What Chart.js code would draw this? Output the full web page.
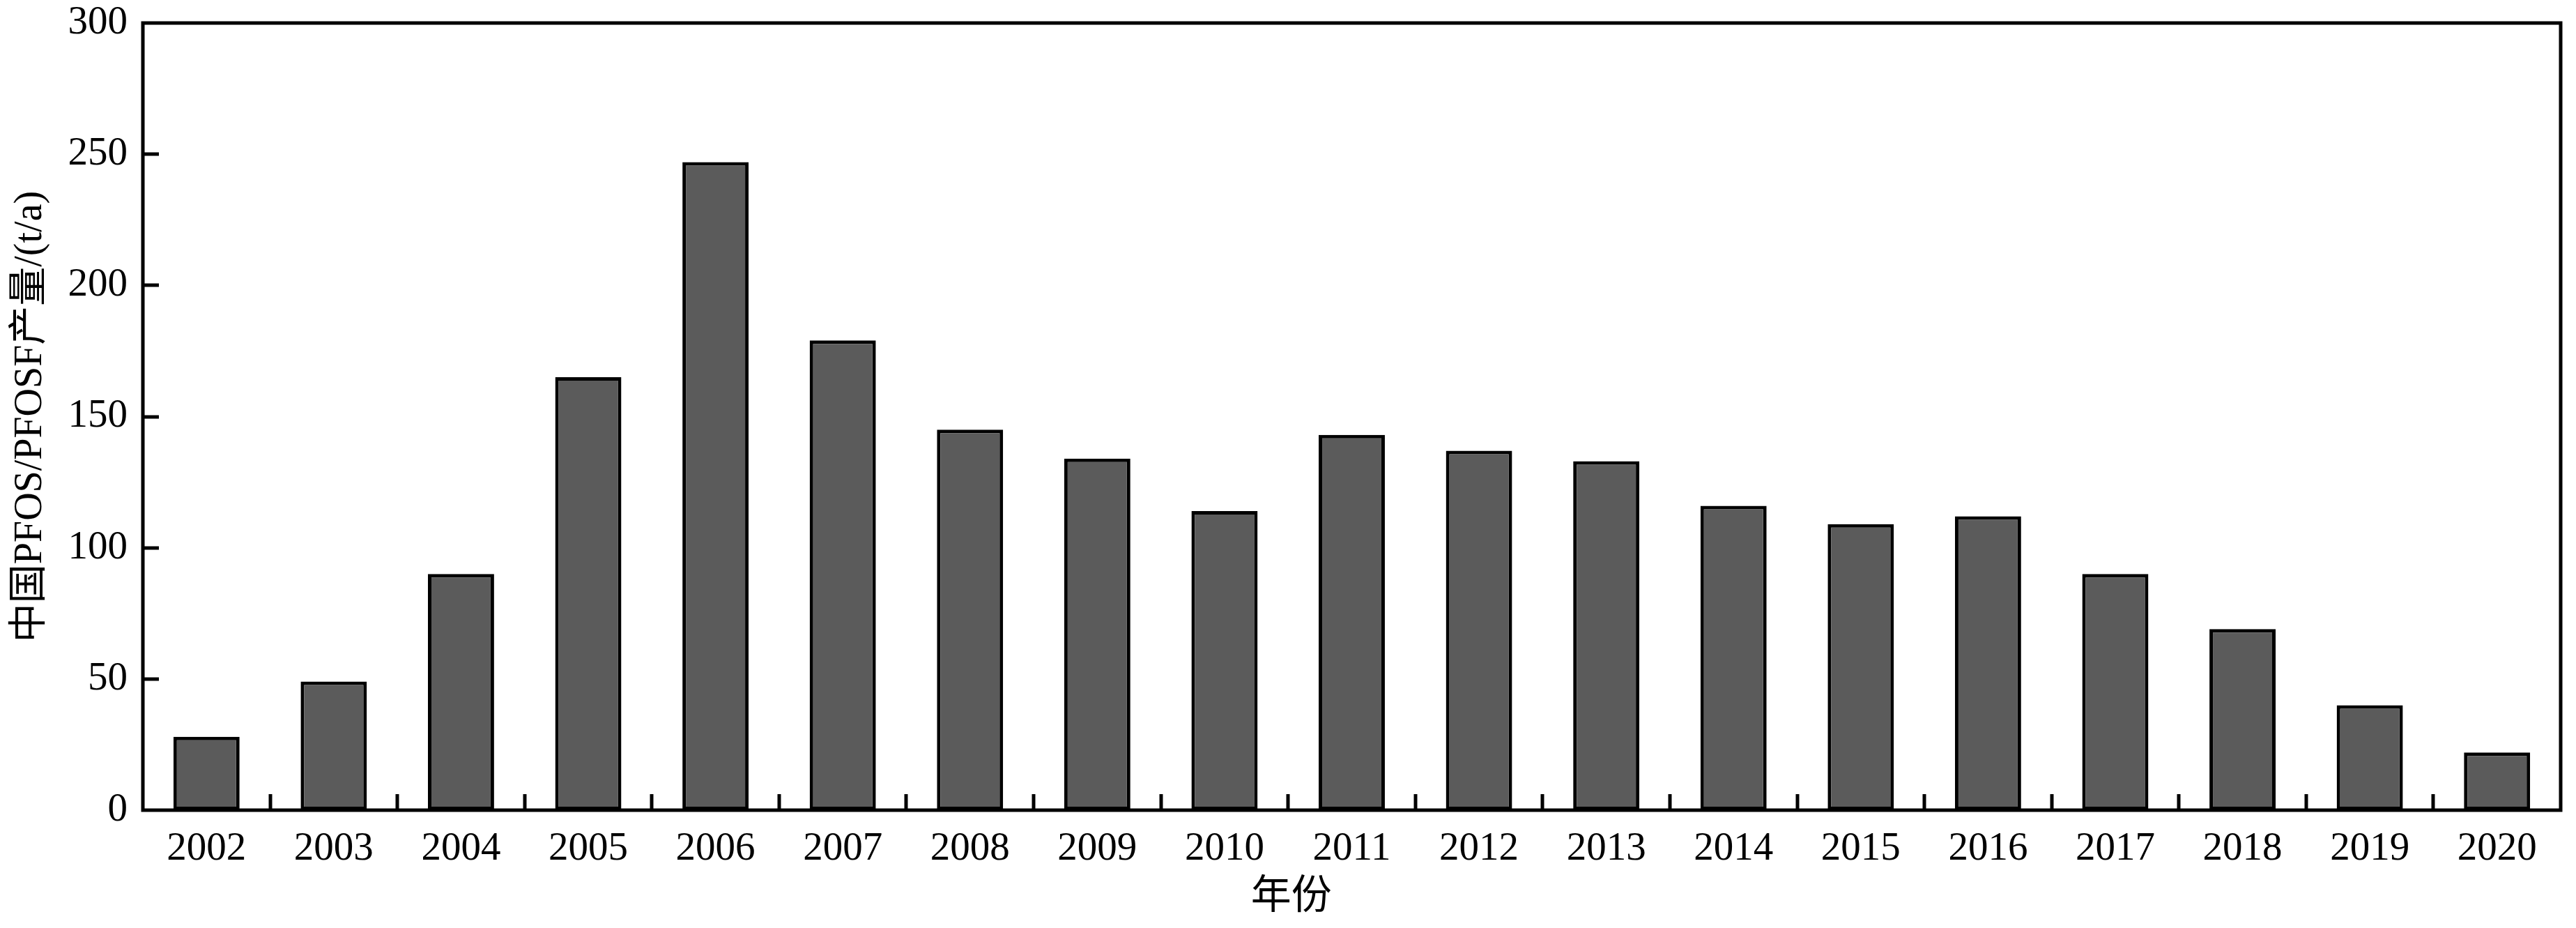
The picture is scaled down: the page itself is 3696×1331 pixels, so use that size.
<!DOCTYPE html>
<html>
<head>
<meta charset="utf-8">
<script src="https://cdn.jsdelivr.net/npm/chart.js@4.4.1/dist/chart.umd.min.js"></script>
<style>
html,body{margin:0;padding:0;background:#ffffff;}
#wrap{width:3696px;height:1331px;}
</style>
</head>
<body>
<div id="wrap"><canvas id="c" width="3696" height="1331"></canvas></div>
<script>
const years = ['2002','2003','2004','2005','2006','2007','2008','2009','2010','2011','2012','2013','2014','2015','2016','2017','2018','2019','2020'];
const production = [28,49,90,165,247,179,145,134,114,143,137,133,116,109,112,90,69,40,22];
const yMin = 0;
const yMax = 300;
const yStep = 50;
const xTitle = '年份';
const yTitle = '中国PFOS/PFOSF产量/(t/a)';

const FONT = "'Liberation Serif', 'Noto Sans CJK SC', serif";
const LINE = 5;
const TICK_LEN = 23;

const framePlugin = {
  id: 'frameAndInnerTicks',
  afterDraw(chart) {
    const {ctx, chartArea: a, scales: {x, y}} = chart;
    ctx.save();
    ctx.strokeStyle = '#000';
    ctx.lineWidth = LINE;
    ctx.lineCap = 'butt';
    y.ticks.forEach(t => {
      if (t.value <= yMin || t.value >= yMax) return;
      const py = Math.round(y.getPixelForValue(t.value));
      ctx.beginPath();
      ctx.moveTo(a.left, py);
      ctx.lineTo(a.left + TICK_LEN, py);
      ctx.stroke();
    });
    for (let i = 1; i < years.length; i++) {
      const px = Math.round((x.getPixelForValue(i - 1) + x.getPixelForValue(i)) / 2);
      ctx.beginPath();
      ctx.moveTo(px, a.bottom);
      ctx.lineTo(px, a.bottom - TICK_LEN);
      ctx.stroke();
    }
    ctx.strokeRect(a.left, a.top, a.right - a.left, a.bottom - a.top);
    ctx.fillStyle = '#000';
    ctx.font = "58px " + FONT;
    ctx.textAlign = 'center';
    ctx.textBaseline = 'middle';
    const cx = a.left + (a.right - a.left) * 0.475;
    ctx.fillText(xTitle, cx, 1288);
    ctx.restore();
  }
};

new Chart(document.getElementById('c'), {
  type: 'bar',
  data: {
    labels: years,
    datasets: [{
      data: production,
      backgroundColor: '#5b5b5b',
      borderColor: '#000000',
      borderWidth: 5,
      borderSkipped: false,
      barPercentage: 0.52,
      categoryPercentage: 1.0
    }]
  },
  options: {
    responsive: false,
    devicePixelRatio: 1,
    animation: false,
    layout: { padding: { top: 33, right: 22, left: 0, bottom: 0 } },
    plugins: { legend: { display: false }, tooltip: { enabled: false } },
    scales: {
      x: {
        grid: { display: false, drawTicks: false },
        border: { display: false },
        ticks: { color: '#000', font: { family: FONT, size: 57 }, padding: 22, maxRotation: 0, autoSkip: false },
        title: { display: false, text: xTitle },
        afterFit(scale) { scale.height = 169; scale.paddingLeft = 0; scale.paddingRight = 0; }
      },
      y: {
        min: yMin,
        max: yMax,
        grid: { display: false, drawTicks: false },
        border: { display: false },
        ticks: { stepSize: yStep, color: '#000', font: { family: FONT, size: 57 }, padding: 22 },
        title: { display: true, text: yTitle, color: '#000', font: { family: FONT, size: 56 }, padding: { top: 11, bottom: 0 } },
        afterFit(scale) { scale.width = 205; scale.paddingTop = 0; scale.paddingBottom = 0; }
      }
    }
  },
  plugins: [framePlugin]
});
</script>
</body>
</html>
